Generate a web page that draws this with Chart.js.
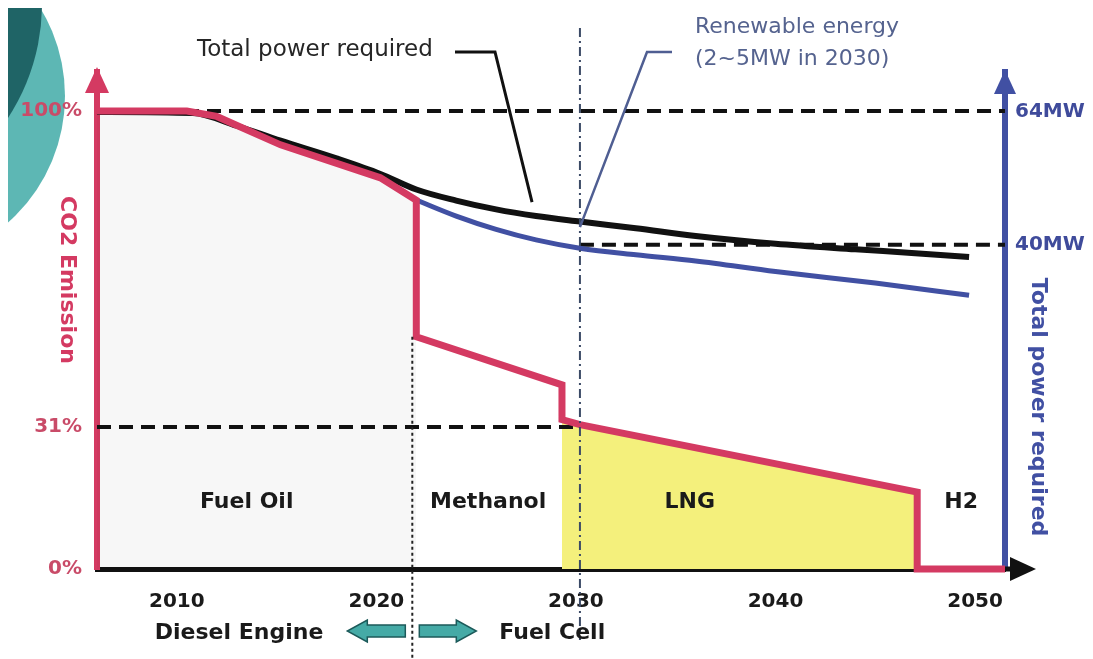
<!DOCTYPE html>
<html lang="en">
<head>
<meta charset="UTF-8">
<title>CO2 Emission / Total power required</title>
<script src="https://cdn.jsdelivr.net/npm/chart.js"></script>
<style>
  html, body { margin: 0; padding: 0; background: #fff; }
  #wrap { width: 1093px; height: 659px; position: relative; }
</style>
</head>
<body>
<div id="wrap"><canvas id="fuelChart"></canvas></div>
<script>
// axis ticks
const yearTicks = [2010, 2020, 2030, 2040, 2050];
const co2Ticks = [0, 31, 100];
const powerTicks = [40, 64];

// CO2 emission path (%) - steps are the fuel switches
const co2Years  = [2006, 2010.5, 2012, 2015.2, 2020.2, 2022, 2022, 2029.3, 2029.3, 2030.2, 2047.1, 2047.1, 2051.5];
const co2Values = [100, 100, 98.8, 92.6, 85.4, 80.5, 50.7, 40.2, 32.6, 31.5, 16.8, 0, 0];

// total power required (MW)
const totalYears = [2006, 2010.8, 2013, 2015.2, 2018, 2020.2, 2022, 2024, 2026, 2028, 2030.2, 2033, 2036, 2040, 2044, 2047, 2049.7];
const totalMW    = [64, 63.8, 61.5, 58.8, 55.6, 52.8, 50.0, 48.0, 46.4, 45.2, 44.2, 43.0, 41.6, 40.2, 39.2, 38.5, 37.8];

// power left after renewable energy (MW)
const netYears = [2022, 2024, 2026, 2028, 2030.2, 2033, 2036, 2040, 2045, 2049.7];
const netMW    = [48.1, 45.2, 42.8, 40.9, 39.4, 38.2, 37.1, 35.2, 33.1, 30.9];

// fuel periods
const fuelNames = ['Fuel Oil', 'Methanol', 'LNG', 'H2'];
const fuelLabelYears = [2013.5, 2025.6, 2035.7, 2049.3];
const fuelLabelLevel = 14.6;
const engineSwitchYear = 2021.8;
const fuelCellYear = 2030.2;
const xMin = 2006, xMax = 2051.5;

const RED = '#d43a62';
const BLUE = '#4150a3';
const YELLOW = '#f4f07c';
const FONT = 'DejaVu Sans';

const pts = (xs, ys) => xs.map((x, i) => ({ x: x, y: ys[i] }));

function arrowHead(ctx, tipX, tipY, dir, len, half, color) {
    ctx.fillStyle = color;
    ctx.beginPath();
    if (dir === 'up') {
        ctx.moveTo(tipX, tipY);
        ctx.lineTo(tipX - half, tipY + len);
        ctx.lineTo(tipX + half, tipY + len);
    } else {
        ctx.moveTo(tipX, tipY);
        ctx.lineTo(tipX - len, tipY - half);
        ctx.lineTo(tipX - len, tipY + half);
    }
    ctx.closePath();
    ctx.fill();
}

function blockArrow(ctx, fromX, toX, y) {
    // flat teal arrow pointing from fromX toward toX
    const s = toX > fromX ? 1 : -1;
    const headStart = toX - s * 20;
    ctx.beginPath();
    ctx.moveTo(fromX, y - 6);
    ctx.lineTo(headStart, y - 6);
    ctx.lineTo(headStart, y - 11);
    ctx.lineTo(toX, y);
    ctx.lineTo(headStart, y + 11);
    ctx.lineTo(headStart, y + 6);
    ctx.lineTo(fromX, y + 6);
    ctx.closePath();
    ctx.fillStyle = '#45aaa6';
    ctx.fill();
    ctx.lineWidth = 1.5;
    ctx.strokeStyle = '#1c5a5a';
    ctx.stroke();
}

const decor = {
    id: 'decor',
    beforeDraw(chart) {
        // slide decoration in the top left corner
        const ctx = chart.ctx;
        ctx.save();
        ctx.beginPath();
        ctx.rect(8, 8, 200, 240);
        ctx.clip();
        ctx.fillStyle = '#5db7b4';
        ctx.beginPath();
        ctx.arc(-104, 96, 169, 0, Math.PI * 2);
        ctx.fill();
        ctx.fillStyle = '#1f6466';
        ctx.beginPath();
        ctx.arc(-166, 4, 208, 0, Math.PI * 2);
        ctx.fill();
        ctx.restore();
    },
    afterDraw(chart) {
        const ctx = chart.ctx;
        const area = chart.chartArea;
        const x = chart.scales.x, y = chart.scales.y, y2 = chart.scales.y2;
        ctx.save();

        // axis arrows
        arrowHead(ctx, area.left, 67, 'up', 26, 12, RED);
        arrowHead(ctx, area.right, 70, 'up', 24, 11, BLUE);
        ctx.strokeStyle = '#111';
        ctx.lineWidth = 5;
        ctx.beginPath();
        ctx.moveTo(area.right, area.bottom);
        ctx.lineTo(1014, area.bottom);
        ctx.stroke();
        arrowHead(ctx, 1036, area.bottom, 'right', 26, 12, '#111');

        // engine switch (dotted) and fuel cell year (dash-dot)
        const sx = x.getPixelForValue(engineSwitchYear);
        ctx.strokeStyle = '#222';
        ctx.lineWidth = 2;
        ctx.setLineDash([3, 3]);
        ctx.beginPath();
        ctx.moveTo(sx, y.getPixelForValue(co2Values[6]));
        ctx.lineTo(sx, 659);
        ctx.stroke();

        const fx = x.getPixelForValue(fuelCellYear);
        ctx.strokeStyle = '#3b4a66';
        ctx.setLineDash([9, 4, 2, 4]);
        ctx.beginPath();
        ctx.moveTo(fx, 28);
        ctx.lineTo(fx, 640);
        ctx.stroke();
        ctx.setLineDash([]);

        // fuel names
        ctx.fillStyle = '#1a1a1a';
        ctx.font = 'bold 22px "' + FONT + '"';
        ctx.textAlign = 'center';
        ctx.textBaseline = 'middle';
        fuelNames.forEach((name, i) => {
            ctx.fillText(name, x.getPixelForValue(fuelLabelYears[i]), y.getPixelForValue(fuelLabelLevel));
        });

        // Diesel Engine <=> Fuel Cell
        blockArrow(ctx, sx - 7, sx - 65, 631);
        blockArrow(ctx, sx + 7, sx + 64, 631);
        ctx.fillStyle = '#1a1a1a';
        ctx.textAlign = 'right';
        ctx.fillText('Diesel Engine', sx - 89, 633);
        ctx.textAlign = 'left';
        ctx.fillText('Fuel Cell', sx + 87, 633);

        // axis titles, read top to bottom
        ctx.textAlign = 'center';
        ctx.save();
        ctx.translate(67, 280);
        ctx.rotate(Math.PI / 2);
        ctx.fillStyle = RED;
        ctx.fillText('CO2 Emission', 0, 0);
        ctx.restore();
        ctx.save();
        ctx.translate(1038, 407);
        ctx.rotate(Math.PI / 2);
        ctx.fillStyle = BLUE;
        ctx.fillText('Total power required', 0, 0);
        ctx.restore();

        // callouts
        ctx.font = '23px "' + FONT + '"';
        ctx.textAlign = 'left';
        ctx.fillStyle = '#262626';
        ctx.fillText('Total power required', 197, 50);
        ctx.strokeStyle = '#111';
        ctx.lineWidth = 3;
        ctx.beginPath();
        ctx.moveTo(455, 52);
        ctx.lineTo(495, 52);
        ctx.lineTo(x.getPixelForValue(2027.8), y2.getPixelForValue(47.7));
        ctx.stroke();

        ctx.font = '22px "' + FONT + '"';
        ctx.fillStyle = '#55638f';
        ctx.fillText('Renewable energy', 695, 27);
        ctx.fillText('(2~5MW in 2030)', 695, 59);
        ctx.strokeStyle = '#4f5e92';
        ctx.lineWidth = 2.5;
        ctx.beginPath();
        ctx.moveTo(672, 52);
        ctx.lineTo(647, 52);
        ctx.lineTo(x.getPixelForValue(fuelCellYear), y2.getPixelForValue(43.2));
        ctx.stroke();

        ctx.restore();
    }
};

const dashed = { borderColor: '#111', borderWidth: 4, borderDash: [14, 8], pointRadius: 0, order: 5, clip: false };
const tickFont = { family: FONT, size: 20, weight: 'bold' };

new Chart(document.getElementById('fuelChart'), {
    type: 'line',
    data: {
        datasets: [
            { label: 'CO2 emission', data: pts(co2Years, co2Values), yAxisID: 'y',
              borderColor: RED, borderWidth: 7, borderJoinStyle: 'miter', pointRadius: 0, tension: 0, order: 1, clip: false },
            { label: 'Total power required', data: pts(totalYears, totalMW), yAxisID: 'y2',
              borderColor: '#111', borderWidth: 6, pointRadius: 0, cubicInterpolationMode: 'monotone', order: 2, clip: false },
            { label: 'Renewable energy', data: pts(netYears, netMW), yAxisID: 'y2',
              borderColor: BLUE, borderWidth: 5, pointRadius: 0, cubicInterpolationMode: 'monotone', order: 3, clip: false },
            Object.assign({ label: '100%', yAxisID: 'y', data: [{ x: xMin, y: co2Ticks[2] }, { x: xMax, y: co2Ticks[2] }] }, dashed),
            Object.assign({ label: '31%', yAxisID: 'y', data: [{ x: xMin, y: co2Ticks[1] }, { x: fuelCellYear, y: co2Ticks[1] }] }, dashed),
            Object.assign({ label: '40MW', yAxisID: 'y2', data: [{ x: fuelCellYear, y: powerTicks[0] }, { x: xMax, y: powerTicks[0] }] }, dashed),
            { label: 'LNG', data: pts(co2Years.slice(8, 11), co2Values.slice(8, 11)), yAxisID: 'y',
              fill: 'origin', backgroundColor: YELLOW, borderWidth: 0, pointRadius: 0, tension: 0, order: 8 },
            { label: 'Fuel Oil', data: pts(co2Years.slice(0, 6), co2Values.slice(0, 6)), yAxisID: 'y',
              fill: 'origin', backgroundColor: 'rgba(0,0,0,0.03)', borderWidth: 0, pointRadius: 0, tension: 0, order: 9 }
        ]
    },
    options: {
        responsive: true,
        maintainAspectRatio: false,
        animation: false,
        layout: { padding: { top: 72, left: 0, right: 0, bottom: 0 } },
        plugins: { legend: { display: false }, tooltip: { enabled: false } },
        scales: {
            x: {
                type: 'linear', min: xMin, max: xMax,
                afterFit(s) { s.height = 90; },
                afterBuildTicks(s) { s.ticks = yearTicks.map(v => ({ value: v })); },
                grid: { display: false, drawTicks: false },
                border: { color: '#111', width: 5 },
                ticks: { autoSkip: false, maxRotation: 0, padding: 21, color: '#1a1a1a', font: tickFont,
                         callback: v => String(v) }
            },
            y: {
                position: 'left', min: 0, max: 108.5,
                afterFit(s) { s.width = 97; },
                afterBuildTicks(s) { s.ticks = co2Ticks.map(v => ({ value: v })); },
                grid: { display: false, drawTicks: false },
                border: { color: RED, width: 6 },
                ticks: { autoSkip: false, padding: 15, color: '#c94b68', font: tickFont, callback: v => v + '%' }
            },
            y2: {
                position: 'right', min: -18.5, max: 71.2,
                afterFit(s) { s.width = 88; },
                afterBuildTicks(s) { s.ticks = powerTicks.map(v => ({ value: v })); },
                grid: { display: false, drawTicks: false },
                border: { color: BLUE, width: 6 },
                ticks: { autoSkip: false, padding: 10, color: '#3f4b9b', font: tickFont, callback: v => v + 'MW' }
            }
        }
    },
    plugins: [decor]
});
</script>
</body>
</html>
